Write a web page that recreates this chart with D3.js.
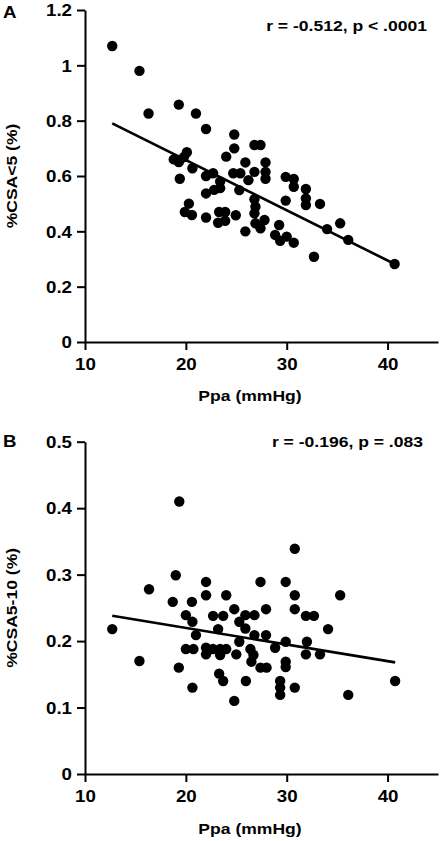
<!DOCTYPE html>
<html>
<head>
<meta charset="utf-8">
<script src="https://cdn.jsdelivr.net/npm/d3@7"></script>
<style>
  html, body { margin: 0; padding: 0; background: #fff; }
  svg { display: block; }
  text { font-family: "Liberation Sans", Arial, Helvetica, sans-serif; font-weight: bold; fill: #000; }
</style>
</head>
<body>
<svg id="chart" width="442" height="841"></svg>
<script>
// ---------- data ----------
const xTicks = [10, 20, 30, 40];
const yTicksA = [0, 0.2, 0.4, 0.6, 0.8, 1, 1.2];
const yTickLabelsA = ["0", "0.2", "0.4", "0.6", "0.8", "1", "1.2"];
const yTicksB = [0, 0.1, 0.2, 0.3, 0.4, 0.5];
const yTickLabelsB = ["0", "0.1", "0.2", "0.3", "0.4", "0.5"];

const xTitle = "Ppa (mmHg)";
const yTitleA = "%CSA<5 (%)";
const yTitleB = "%CSA5-10 (%)";
const statA = "r = -0.512, p < .0001";
const statB = "r = -0.196, p = .083";

// Panel A points: [Ppa, %CSA<5]
const pointsA = [
  [12.7, 1.07], [15.4, 0.98], [16.3, 0.826], [19.3, 0.858], [21.0, 0.826],
  [22.0, 0.77], [24.8, 0.75], [24.8, 0.70], [26.8, 0.712], [27.4, 0.712],
  [24.0, 0.67], [20.1, 0.686], [18.8, 0.66], [19.3, 0.65], [19.8, 0.668],
  [25.9, 0.649], [27.9, 0.649], [20.65, 0.628], [19.4, 0.59], [22.0, 0.60],
  [22.7, 0.61], [24.7, 0.61], [25.4, 0.61], [26.8, 0.615], [27.9, 0.615],
  [27.9, 0.59], [26.2, 0.585], [23.4, 0.58], [29.9, 0.597], [30.7, 0.589],
  [30.7, 0.561], [31.9, 0.553], [23.4, 0.556], [22.8, 0.55], [22.0, 0.537],
  [25.3, 0.549], [26.8, 0.516], [29.9, 0.511], [31.9, 0.519], [31.9, 0.495],
  [33.3, 0.499], [26.9, 0.489], [26.8, 0.465], [20.3, 0.50], [19.9, 0.47],
  [20.6, 0.459], [22.0, 0.45], [23.3, 0.47], [23.9, 0.47], [23.2, 0.431],
  [23.9, 0.438], [24.95, 0.458], [27.4, 0.411], [27.8, 0.441], [25.9, 0.40],
  [29.25, 0.423], [28.85, 0.387], [29.35, 0.366], [30.0, 0.381], [30.7, 0.359],
  [32.7, 0.308], [34.0, 0.408], [35.3, 0.429], [36.1, 0.369], [40.7, 0.282],
  [26.9, 0.429]
];
// Panel B points: [Ppa, %CSA5-10]
const pointsB = [
  [12.7, 0.218], [15.4, 0.17], [16.35, 0.278], [19.0, 0.299], [19.35, 0.41],
  [18.7, 0.259], [19.3, 0.16], [20.0, 0.239], [20.65, 0.229], [20.6, 0.259],
  [21.0, 0.209], [20.0, 0.188], [20.75, 0.188], [20.65, 0.13], [22.0, 0.289],
  [22.0, 0.269], [22.0, 0.19], [22.0, 0.18], [22.7, 0.238], [23.7, 0.238],
  [23.2, 0.218], [22.7, 0.188], [23.4, 0.188], [24.0, 0.188], [23.4, 0.179],
  [23.3, 0.151], [23.7, 0.14], [24.0, 0.269], [24.8, 0.248], [24.8, 0.11],
  [25.0, 0.18], [25.3, 0.229], [25.3, 0.199], [25.9, 0.239], [25.9, 0.219],
  [25.95, 0.14], [26.8, 0.239], [26.8, 0.209], [26.4, 0.188], [26.7, 0.179],
  [26.5, 0.169], [27.4, 0.16], [28.0, 0.16], [27.4, 0.289], [27.95, 0.248],
  [27.95, 0.209], [28.85, 0.19], [29.9, 0.289], [29.9, 0.199], [29.9, 0.169],
  [29.9, 0.161], [29.35, 0.14], [29.35, 0.13], [29.35, 0.119], [30.8, 0.339],
  [30.8, 0.269], [30.8, 0.248], [30.8, 0.13], [31.9, 0.238], [32.7, 0.238],
  [32.0, 0.199], [31.9, 0.18], [33.3, 0.18], [34.1, 0.218], [35.3, 0.269],
  [36.1, 0.119], [40.75, 0.14]
];
// regression line end points
const fitA = [[12.7, 0.79], [40.7, 0.282]];
const fitB = [[12.7, 0.238], [40.75, 0.168]];

// ---------- drawing ----------
const SX = 1.17; // horizontal text stretch
const svg = d3.select("#chart");

function panel(opts) {
  const g = svg.append("g");
  const x = d3.scaleLinear().domain([10, 45]).range([85, 438]);
  const y = d3.scaleLinear().domain(opts.yDomain).range([opts.bottom, opts.top]);

  // points
  g.append("g").selectAll("circle").data(opts.points).join("circle")
    .attr("cx", d => x(d[0])).attr("cy", d => y(d[1])).attr("r", 5.2)
    .attr("fill", "#000");

  // regression line
  g.append("path").datum(opts.fit)
    .attr("d", d3.line().x(d => x(d[0])).y(d => y(d[1])))
    .attr("stroke", "#000").attr("stroke-width", 2.6).attr("fill", "none");

  // y axis
  const ya = g.append("g").attr("transform", `translate(${x(10)},0)`)
    .call(d3.axisLeft(y).tickValues(opts.yTicks)
      .tickFormat((d, i) => opts.yLabels[i]).tickSize(8).tickPadding(5).tickSizeOuter(0));
  // x axis
  const xa = g.append("g").attr("transform", `translate(0,${y(0)})`)
    .call(d3.axisBottom(x).tickValues(xTicks).tickFormat(d3.format("d"))
      .tickSize(8).tickPadding(9).tickSizeOuter(0));

  [ya, xa].forEach(a => {
    a.selectAll("path.domain").attr("stroke", "#000").attr("stroke-width", 2);
    a.selectAll(".tick line").attr("stroke", "#000").attr("stroke-width", 2);
    a.selectAll(".tick text").attr("fill", "#000")
      .style("font-size", "16px").style("font-family", "'Liberation Sans', Arial, sans-serif")
      .style("font-weight", "bold");
  });
  ya.selectAll(".tick text").attr("x", -13 / SX).attr("dy", "0.36em")
    .attr("transform", `scale(${SX},1)`);
  xa.selectAll(".tick text").attr("transform", `scale(${SX},1)`);

  // x title
  g.append("text")
    .attr("transform", `translate(250,${opts.xTitleY}) scale(${SX},1)`)
    .attr("text-anchor", "middle").style("font-size", "15px").text(xTitle);

  // y title
  g.append("text")
    .attr("transform", `translate(17,${(y.range()[0] + y.range()[1]) / 2}) rotate(-90) scale(${SX},1)`)
    .attr("text-anchor", "middle").style("font-size", "15px").text(opts.yTitle);

  // stat text
  g.append("text")
    .attr("transform", `translate(${opts.statX},${opts.statY}) scale(${SX},1)`)
    .attr("text-anchor", "end").style("font-size", "15px").text(opts.stat);

  // panel letter
  g.append("text")
    .attr("transform", `translate(3,${opts.letterY}) scale(${SX},1)`)
    .style("font-size", "16px").text(opts.letter);
}

panel({
  points: pointsA, fit: fitA, yDomain: [0, 1.2], top: 10, bottom: 342,
  yTicks: yTicksA, yLabels: yTickLabelsA, yTitle: yTitleA,
  xTitleY: 401, stat: statA, statX: 427, statY: 30.5, letter: "A", letterY: 18
});
panel({
  points: pointsB, fit: fitB, yDomain: [0, 0.5], top: 441.7, bottom: 774,
  yTicks: yTicksB, yLabels: yTickLabelsB, yTitle: yTitleB,
  xTitleY: 834, stat: statB, statX: 423, statY: 447, letter: "B", letterY: 447
});
</script>
</body>
</html>
